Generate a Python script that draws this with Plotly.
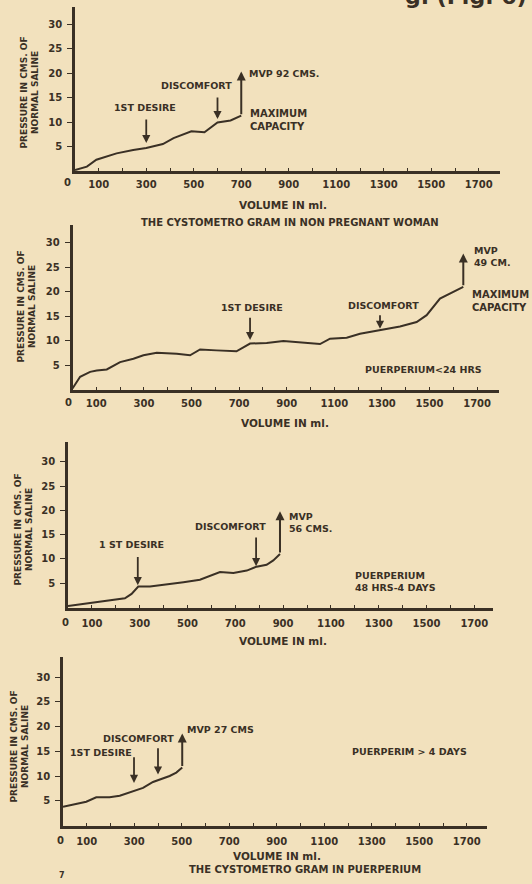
import plotly.graph_objects as go

W, H = 532, 884
INK = "#3a3025"
BG = "#f2e1bd"
FONT = "DejaVu Sans"

# ---------------- data ----------------
# Panel 1: non pregnant woman
p1_volume = [0, 50, 90, 175, 245, 300, 370, 415, 490, 545, 600, 655, 700]
p1_pressure = [0.2, 0.9, 2.3, 3.6, 4.3, 4.7, 5.5, 6.7, 8.1, 7.9, 9.9, 10.3, 11.3]
p1_mvp_top = 20.3
p1_desire = [300, 10.8, 5.7]        # volume, arrow start, arrow tip
p1_discomfort = [600, 15.3, 10.6]

# Panel 2: puerperium < 24 hrs
p2_volume = [0, 32, 74, 102, 144, 200, 256, 298, 354, 438, 494, 536, 605, 689,
             746, 816, 886, 956, 1040, 1082, 1152, 1208, 1292, 1376, 1446, 1488,
             1544, 1586, 1642]
p2_pressure = [0.2, 2.6, 3.6, 3.9, 4.1, 5.6, 6.3, 7.0, 7.5, 7.3, 7.0, 8.2, 8.0, 7.8,
               9.4, 9.5, 9.9, 9.6, 9.3, 10.4, 10.6, 11.4, 12.1, 12.9, 13.8, 15.2,
               18.6, 19.7, 21.0]
p2_mvp_top = 27.8
p2_desire = [746, 15.0, 10.1]
p2_discomfort = [1292, 15.5, 12.4]

# Panel 3: puerperium 48 hrs - 4 days
p3_volume = [0, 92, 176, 238, 266, 294, 343, 413, 483, 552, 580, 636, 692, 748,
             789, 831, 859, 887]
p3_pressure = [0.3, 0.9, 1.4, 1.9, 2.8, 4.3, 4.3, 4.7, 5.2, 5.7, 6.2, 7.3, 7.1,
               7.6, 8.4, 8.8, 9.7, 11.0]
p3_mvp_top = 19.8
p3_desire = [292, 10.7, 4.6]
p3_discomfort = [787, 14.7, 8.5]

# Panel 4: puerperium > 4 days
p4_volume = [0, 56, 98, 140, 196, 239, 295, 337, 379, 407, 449, 477, 502]
p4_pressure = [3.8, 4.3, 4.8, 5.7, 5.7, 6.0, 6.9, 7.6, 8.8, 9.3, 10.0, 10.7, 11.7]
p4_mvp_top = 18.6
p4_desire = [299, 14.1, 8.6]
p4_discomfort = [400, 15.9, 10.3]

x_tick_vals = list(range(0, 1800, 100))
x_tick_text = ["" if (v == 0 or v % 200 == 0) else str(v) for v in x_tick_vals]
y_tick_vals = [5, 10, 15, 20, 25, 30]
y_tick_text = ["5", "10", "15", "20", "25", "30"]

# ---------------- layout geometry (pixels) ----------------
# origin x, origin y, px per ml, px per cm, x max, y max, tick label standoff
geom = [
    (75.0, 171.0, 0.2375, 4.90, 1790, 33.5, 2),
    (72.5, 389.5, 0.2380, 4.89, 1790, 33.6, 3),
    (68.0, 607.5, 0.2390, 4.86, 1780, 34.0, 5),
    (63.0, 825.5, 0.2375, 4.95, 1785, 34.0, 5),
]
zero_label_px = [(67, 183), (68, 403), (65, 622), (60, 840)]

fig = go.Figure()
layout = {}
annotations = []


def fnt(size=9.5):
    return dict(family=FONT, size=size, color=INK, weight="bold")


def ref(i):
    return ("x" if i == 1 else f"x{i}"), ("y" if i == 1 else f"y{i}")


def arrow(i, x, y_from, y_to, width=1.8):
    xr, yr = ref(i)
    return dict(xref=xr, yref=yr, axref=xr, ayref=yr, x=x, y=y_to, ax=x, ay=y_from,
                text="", showarrow=True, arrowhead=2, arrowsize=0.9,
                arrowwidth=width, arrowcolor=INK, standoff=0, startstandoff=0)


def label(i, x, y, text, xanchor="center", size=9.5):
    xr, yr = ref(i)
    return dict(xref=xr, yref=yr, x=x, y=y, text=text, showarrow=False,
                xanchor=xanchor, yanchor="middle", align="left", font=fnt(size))


def paper_text(px, py, text, size=9.5, angle=0, xanchor="center"):
    return dict(xref="paper", yref="paper", x=px / W, y=1 - py / H, text=text,
                showarrow=False, xanchor=xanchor, yanchor="middle",
                textangle=angle, font=fnt(size), align="center")


series = [
    (p1_volume, p1_pressure, p1_mvp_top, p1_desire, p1_discomfort),
    (p2_volume, p2_pressure, p2_mvp_top, p2_desire, p2_discomfort),
    (p3_volume, p3_pressure, p3_mvp_top, p3_desire, p3_discomfort),
    (p4_volume, p4_pressure, p4_mvp_top, p4_desire, p4_discomfort),
]

for i, ((ox, oy, sx, sy, xmax, ymax, stand), (vol, pres, mvp, des, dis)) in enumerate(
        zip(geom, series), start=1):
    xr, yr = ref(i)
    xname = "xaxis" if i == 1 else f"xaxis{i}"
    yname = "yaxis" if i == 1 else f"yaxis{i}"
    layout[xname] = dict(
        domain=[ox / W, (ox + xmax * sx) / W], range=[0, xmax], anchor=yr,
        showgrid=False, zeroline=False, showline=True, linewidth=2.6,
        linecolor=INK, ticks="inside", ticklen=3, tickwidth=1.4, tickcolor=INK,
        tickvals=x_tick_vals, ticktext=x_tick_text, tickfont=fnt(10),
        ticklabelstandoff=stand, fixedrange=True)
    layout[yname] = dict(
        domain=[1 - oy / H, 1 - (oy - ymax * sy) / H], range=[0, ymax], anchor=xr,
        showgrid=False, zeroline=False, showline=True, linewidth=2.6,
        linecolor=INK, ticks="outside", ticklen=5, tickwidth=1.4, tickcolor=INK,
        tickvals=y_tick_vals, ticktext=y_tick_text, tickfont=fnt(10),
        ticklabelstandoff=3, fixedrange=True)
    fig.add_trace(go.Scatter(x=vol, y=pres, mode="lines", xaxis=xr, yaxis=yr,
                             line=dict(color=INK, width=2.0), hoverinfo="skip",
                             showlegend=False))
    # MVP vertical arrow
    annotations.append(arrow(i, vol[-1], pres[-1], mvp, width=2.0))
    annotations.append(arrow(i, des[0], des[1], des[2]))
    annotations.append(arrow(i, dis[0], dis[1], dis[2]))

# "0" tick labels sit left of each y axis
for (zx, zy) in zero_label_px:
    annotations.append(dict(xref="paper", yref="paper", x=zx / W, y=1 - zy / H,
                            text="0", showarrow=False, xanchor="center",
                            yanchor="middle", font=fnt(10)))

# ---------------- texts ----------------
ytitle = "PRESSURE IN CMS. OF<br>NORMAL SALINE"
annotations += [
    paper_text(29.5, 93, ytitle, size=9, angle=-90),
    paper_text(26.5, 307, ytitle, size=9, angle=-90),
    paper_text(23.5, 530, ytitle, size=9, angle=-90),
    paper_text(19.5, 747, ytitle, size=9, angle=-90),
    paper_text(283, 205, "VOLUME IN ml.", size=10.5),
    paper_text(290, 222, "THE CYSTOMETRO GRAM IN NON PREGNANT WOMAN", size=10),
    paper_text(285, 423, "VOLUME IN ml.", size=10.5),
    paper_text(283, 641, "VOLUME IN ml.", size=10.5),
    paper_text(277, 856, "VOLUME IN ml.", size=10.5),
    paper_text(305, 869, "THE CYSTOMETRO GRAM IN PUERPERIUM", size=10),
    paper_text(62, 875, "7", size=8),
    paper_text(466, -4, "g. (Fig. 6)", size=22),
    # panel 1
    label(1, 295, 12.9, "1ST DESIRE"),
    label(1, 512, 17.5, "DISCOMFORT"),
    label(1, 723, 19.8, "MVP 92 CMS.", xanchor="left"),
    label(1, 730, 10.45, "MAXIMUM<br>CAPACITY", xanchor="left", size=10),
    # panel 2
    label(2, 753, 16.7, "1ST DESIRE"),
    label(2, 1306, 17.2, "DISCOMFORT"),
    label(2, 1677, 27.2, "MVP<br>49 CM.", xanchor="left"),
    label(2, 1670, 18.0, "MAXIMUM<br>CAPACITY", xanchor="left", size=10),
    label(2, 1474, 4.1, "PUERPERIUM<24 HRS"),
    # panel 3
    label(3, 266, 13.0, "1 ST DESIRE"),
    label(3, 678, 16.6, "DISCOMFORT"),
    label(3, 915, 17.55, "MVP<br>56 CMS.", xanchor="left"),
    label(3, 1194, 5.35, "PUERPERIUM<br>48 HRS-4 DAYS", xanchor="left"),
    # panel 4
    label(4, 161, 14.8, "1ST DESIRE"),
    label(4, 316, 17.6, "DISCOMFORT"),
    label(4, 512, 19.4, "MVP 27 CMS", xanchor="left"),
    label(4, 1459, 15.0, "PUERPERIM > 4 DAYS"),
]

fig.update_layout(
    width=W, height=H, margin=dict(l=0, r=0, t=0, b=0),
    paper_bgcolor=BG, plot_bgcolor=BG, showlegend=False,
    annotations=annotations, **layout)

fig.write_html(
    "out.html",
    config={"displayModeBar": False},
    post_script="document.body.style.margin='0px';"
                "document.body.style.overflow='hidden';"
                "document.body.style.background='" + BG + "';",
)
